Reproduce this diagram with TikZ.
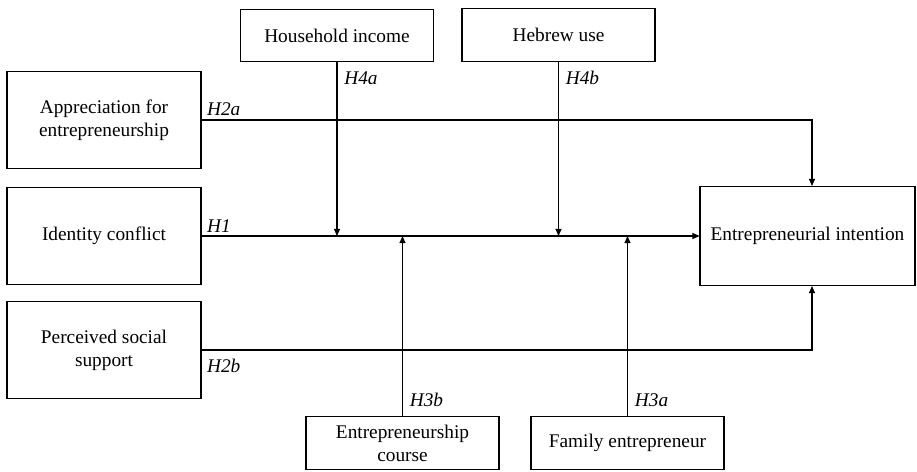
\documentclass[tikz,border=0pt]{standalone}
\usepackage{fontspec}
\setmainfont{Liberation Serif}
\usetikzlibrary{arrows.meta}
\usetikzlibrary{positioning}
\tikzset {
  link path/.style = {
    draw = black,
    line width = 0.6pt
  },
  % path style with an arrow at the end
  arr/.style = {
    link path,
    -{Triangle[length=4pt,width=3.4pt]}
  },
  % path style with no arrows
  narr/.style = {
    link path
  }
}
\tikzset {
  var node/.style = {
    draw = black,
    line width = 0.6pt,
    rectangle,
    align = center,
    inner sep = 0,
    font = \fontsize{11}{13.2}\selectfont
  },
  % predictor on the left
  pred/.style = {
    var node,
    minimum width = 3.88cm,
    minimum height = 1.94cm
  },
  % moderator on top or bottom
  moder/.style = {
    var node,
    minimum width = 3.86cm,
    minimum height = 1.05cm
  },
  % hypothesis label
  hyp/.style = {
    font = \fontsize{11}{13.2}\selectfont\itshape,
    inner sep = 2pt
  }
}

\begin{document}
\begin{tikzpicture}[x=0.02cm, y=-0.02cm]
    \useasboundingbox (0,0) rectangle (917,471);

    \node[pred] (appr) at (104,120) {Appreciation for\\entrepreneurship};
    \node[pred] (ident) at (104,236) {Identity conflict};
    \node[pred] (perc) at (104,350) {Perceived social\\support};

    \node[var node, minimum width=4.3cm, minimum height=1.98cm] (intent) at (807.5,236) {Entrepreneurial intention};

    \node[moder] (hinc) at (337,35.5) {Household income};
    \node[moder] (hebr) at (558.5,35) {Hebrew use};
    \node[moder] (course) at (402.5,443) {Entrepreneurship\\course};
    \node[moder] (famil) at (627.5,443) {Family entrepreneur};

    \coordinate (hook) at (812,0);

    % direct effects
    \draw[arr] (appr.east) -| (intent.north -| hook);
    \draw[arr] (ident.east) -- (intent.west);
    \draw[arr] (perc.east) -| (intent.south -| hook);

    % moderators
    \draw[arr] (hinc.south) -- (hinc.south |- ident.east);
    \draw[arr] (hebr.south) -- (hebr.south |- ident.east);
    \draw[arr] (course.north) -- (course.north |- ident.east);
    \draw[arr] (famil.north) -- (famil.north |- ident.east);

    % hypothesis labels
    \node[hyp, above right=0pt and 1pt of appr.east] {H2a};
    \node[hyp, above right=0pt and 1pt of ident.east] {H1};
    \node[hyp, below right=3pt and 1pt of perc.east] {H2b};
    \node[hyp, below right=3pt and 2pt of hinc.south] {H4a};
    \node[hyp, below right=3pt and 2pt of hebr.south] {H4b};
    \node[hyp, above right=3pt and 2pt of course.north] {H3b};
    \node[hyp, above right=3pt and 2pt of famil.north] {H3a};
\end{tikzpicture}
\end{document}
